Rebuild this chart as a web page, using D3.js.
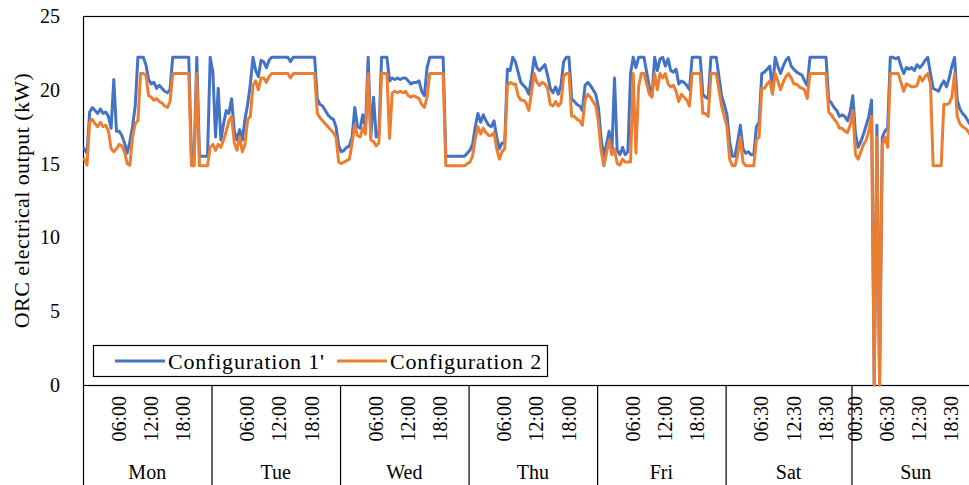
<!DOCTYPE html>
<html>
<head>
<meta charset="utf-8">
<script src="https://cdn.jsdelivr.net/npm/d3@7"></script>
<style>
  body { margin: 0; background: #fff; }
  svg { display: block; font-family: "Liberation Serif", "Times New Roman", serif; }
  .series { fill: none; stroke-width: 3; stroke-linejoin: round; stroke-linecap: round; }
</style>
</head>
<body>
<svg id="chart" width="969" height="485"></svg>
<script>
// half-hour slots per day; Sat has one slot fewer, Sun is cut off at the right
const days = ["Mon", "Tue", "Wed", "Thu", "Fri", "Sat", "Sun"];
const slotsPerDay = [48, 48, 48, 48, 48, 47, 48];
const tickSlots = [[13, 25, 37], [13, 25, 37], [13, 25, 37], [13, 25, 37],
                   [13, 25, 37], [13, 25, 37], [1, 13, 25, 37]];
const tickLabels = [["06:00", "12:00", "18:00"], ["06:00", "12:00", "18:00"],
                    ["06:00", "12:00", "18:00"], ["06:00", "12:00", "18:00"],
                    ["06:00", "12:00", "18:00"], ["06:30", "12:30", "18:30"],
                    ["00:30", "06:30", "12:30", "18:30"]];
const yTicks = [0, 5, 10, 15, 20, 25];
const seriesNames = ["Configuration 1'", "Configuration 2"];
const seriesColors = ["#4472C4", "#ED7D31"];

const config1 = [
  // Mon
  16.0, 15.7, 18.5, 18.8, 18.6, 18.4, 18.7, 18.4, 18.5, 18.2, 17.4, 20.7,
  17.2, 17.2, 16.9, 16.4, 15.7, 16.5, 17.5, 18.9, 22.2, 22.2, 22.2, 21.7,
  20.7, 20.4, 20.5, 20.1, 20.3, 20.1, 19.9, 19.8, 20.0, 22.2, 22.2, 22.2,
  22.2, 22.2, 22.2, 22.2, 15.5, 15.5, 22.2, 15.5, 15.5, 15.5, 15.5, 22.2,
  // Tue
  21.2, 16.8, 20.1, 16.6, 17.7, 18.6, 18.4, 19.4, 17.2, 16.6, 17.3, 16.6,
  18.0, 19.0, 20.4, 22.2, 21.3, 20.9, 22.0, 21.9, 21.5, 22.0, 22.2, 22.2,
  22.2, 22.2, 22.2, 22.2, 22.2, 21.9, 22.2, 22.2, 22.2, 22.2, 22.2, 22.2,
  22.2, 22.2, 22.2, 19.4, 19.0, 18.9, 18.6, 18.3, 18.1, 18.0, 17.5, 16.2,
  // Wed
  15.8, 15.9, 16.1, 16.2, 16.8, 18.8, 17.5, 17.4, 18.3, 17.4, 22.2, 16.8,
  19.5, 16.8, 17.0, 22.2, 22.2, 22.2, 20.6, 20.8, 20.7, 20.8, 20.7, 20.8,
  20.8, 20.6, 20.4, 20.5, 20.5, 20.6, 19.9, 19.6, 21.5, 22.2, 22.2, 22.2,
  22.2, 22.2, 22.2, 15.5, 15.5, 15.5, 15.5, 15.5, 15.5, 15.5, 15.5, 15.7,
  // Thu
  15.9, 16.3, 17.5, 18.4, 17.8, 18.3, 17.9, 17.6, 17.5, 17.9, 16.8, 16.0,
  16.4, 16.4, 21.4, 21.3, 22.2, 21.9, 21.2, 20.5, 20.3, 20.1, 19.7, 20.8,
  22.2, 21.5, 21.3, 21.5, 21.7, 21.0, 20.1, 19.8, 20.2, 19.7, 20.3, 21.9,
  22.2, 22.2, 19.4, 19.2, 19.0, 18.9, 18.6, 20.3, 20.5, 20.3, 20.0, 19.7,
  // Fri
  18.8, 16.7, 15.5, 16.3, 17.2, 15.7, 20.8, 15.9, 15.6, 16.1, 15.6, 15.8,
  21.1, 22.2, 21.5, 22.2, 22.2, 22.2, 21.2, 20.2, 19.6, 22.2, 21.3, 22.1,
  22.2, 21.6, 22.1, 21.3, 21.2, 21.4, 20.4, 20.6, 20.5, 20.3, 20.0, 22.2,
  22.2, 22.2, 22.2, 19.7, 19.5, 19.4, 22.2, 22.2, 22.2, 20.9, 19.6, 19.0,
  // Sat
  18.3, 16.5, 15.5, 15.5, 16.5, 17.6, 16.0, 15.7, 15.8, 15.6, 15.6, 17.5,
  17.8, 21.1, 21.2, 21.4, 21.6, 20.0, 22.2, 21.6, 21.1, 21.6, 22.0, 22.2,
  21.6, 21.4, 21.2, 21.1, 21.0, 20.6, 20.3, 22.2, 22.2, 22.2, 22.2, 22.2,
  22.2, 22.2, 19.3, 19.1, 18.8, 18.6, 18.2, 18.3, 18.2, 17.9, 18.5,
  // Sun
  19.6, 17.0, 16.1, 16.5, 17.0, 17.6, 18.2, 19.3, 0, 17.6, 0, 16.8,
  17.2, 17.4, 22.2, 22.2, 22.1, 22.2, 21.6, 21.1, 21.5, 21.4, 21.5, 21.3,
  21.7, 21.5, 21.7, 22.0, 22.2, 21.1, 20.1, 20.0, 19.9, 20.3, 20.6, 20.2,
  20.8, 21.6, 22.2, 19.3, 18.7, 18.4, 18.2, 17.9, 17.6
];

const config2 = [
  // Mon
  15.3, 14.9, 17.8, 18.0, 17.7, 17.5, 17.8, 17.5, 17.6, 17.2, 16.0, 15.8,
  16.0, 16.3, 16.2, 15.8, 15.0, 14.9, 16.8, 17.7, 17.9, 21.1, 21.1, 21.0,
  19.6, 19.5, 19.3, 19.4, 19.2, 19.1, 18.9, 18.8, 19.2, 21.1, 21.1, 21.1,
  21.1, 21.1, 21.1, 21.1, 14.85, 14.85, 21.1, 14.85, 14.85, 14.85, 14.85, 16.1,
  // Tue
  16.3, 15.9, 16.3, 16.1, 16.6, 17.2, 17.9, 18.2, 16.4, 15.9, 16.8, 15.8,
  16.3, 18.0, 18.2, 20.3, 20.6, 20.0, 20.8, 20.8, 20.5, 20.9, 21.1, 21.1,
  21.1, 21.1, 21.1, 21.1, 21.1, 20.8, 21.1, 21.1, 21.1, 21.1, 21.1, 21.1,
  21.1, 21.1, 21.1, 18.4, 18.1, 17.9, 17.7, 17.5, 17.3, 17.1, 16.8, 15.1,
  // Wed
  15.0, 15.1, 15.2, 15.3, 16.4, 17.6, 16.9, 16.8, 17.4, 17.0, 21.1, 16.6,
  16.5, 16.2, 16.4, 21.1, 21.1, 21.1, 16.7, 19.8, 19.9, 19.8, 19.9, 19.8,
  19.9, 19.6, 19.5, 19.6, 19.5, 19.4, 19.0, 18.8, 19.5, 21.1, 21.1, 21.1,
  21.1, 21.1, 21.1, 14.85, 14.85, 14.85, 14.85, 14.85, 14.85, 14.85, 14.85, 15.0,
  // Thu
  15.1, 15.5, 16.7, 17.5, 17.0, 17.4, 17.1, 16.9, 16.9, 17.1, 16.0, 15.3,
  15.8, 16.0, 20.3, 20.5, 20.4, 20.4, 19.6, 19.3, 19.3, 19.1, 18.6, 19.8,
  21.1, 20.5, 20.3, 20.5, 20.4, 20.1, 19.0, 18.9, 19.2, 18.9, 19.1, 20.9,
  21.1, 21.1, 18.2, 18.2, 18.0, 17.9, 17.6, 19.3, 19.7, 19.5, 19.2, 18.9,
  // Fri
  17.8, 15.9, 14.85, 15.7, 16.6, 15.6, 16.0, 15.0, 14.9, 15.3, 15.1, 15.1,
  15.1, 21.1, 15.7, 20.2, 21.1, 21.1, 20.4, 19.7, 19.5, 21.1, 20.0, 21.1,
  20.8, 21.1, 20.4, 20.2, 20.3, 19.9, 19.2, 19.7, 19.5, 19.3, 18.9, 21.1,
  21.1, 21.1, 21.1, 18.4, 18.4, 18.2, 21.1, 21.1, 21.1, 20.0, 18.9, 18.2,
  // Sat
  17.5, 15.3, 14.85, 14.85, 15.6, 16.8, 15.1, 14.85, 14.85, 14.85, 14.85, 16.6,
  16.8, 20.1, 20.1, 20.4, 20.6, 19.7, 21.1, 20.6, 20.0, 20.5, 20.9, 21.1,
  20.8, 20.4, 20.4, 20.2, 20.1, 20.0, 19.4, 21.1, 21.1, 21.1, 21.1, 21.1,
  21.1, 21.1, 18.5, 18.3, 18.0, 17.8, 17.4, 17.4, 17.2, 17.1, 17.6,
  // Sun
  18.6, 15.6, 15.3, 15.8, 16.3, 16.6, 17.2, 18.2, 0, 16.8, 0, 16.3,
  16.8, 16.1, 21.1, 21.1, 21.1, 21.1, 20.5, 19.9, 20.4, 20.3, 20.2, 20.2,
  20.3, 20.9, 20.6, 20.9, 21.1, 20.4, 14.85, 14.85, 14.85, 14.85, 19.0, 19.0,
  19.1, 19.5, 21.1, 18.2, 17.7, 17.5, 17.4, 17.2, 16.9
];

const svg = d3.select("#chart");
const plotLeft = 83, plotRight = 980, plotTop = 16, plotBottom = 385;

const totalSlots = d3.sum(slotsPerDay);
const x = d3.scaleLinear().domain([0, totalSlots]).range([plotLeft, plotRight]);
const y = d3.scaleLinear().domain([0, 25]).range([plotBottom, plotTop]);

let dayStart = [];
let acc = 0;
slotsPerDay.forEach((n) => { dayStart.push(acc); acc += n; });

// plot frame (right side falls outside the picture)
svg.append('rect')
    .attr('x', plotLeft + 0.5).attr('y', plotTop + 0.5)
    .attr('width', plotRight - plotLeft).attr('height', plotBottom - plotTop)
    .attr('fill', "none").attr('stroke', "#000").attr('stroke-width', 1.2);

// y axis labels
let yAxis = svg.append('g')
    .attr('transform', `translate(${plotLeft},0)`)
    .call(d3.axisLeft(y).tickValues(yTicks).tickSize(0).tickPadding(23));
yAxis.select('.domain').remove();
yAxis.selectAll('text')
    .attr('font-family', "Liberation Serif, serif")
    .attr('font-size', 20)
    .attr('fill', "#000");

svg.append('text')
    .attr('transform', `translate(29,${(plotTop + plotBottom) / 2}) rotate(-90)`)
    .attr('text-anchor', "middle")
    .attr('font-size', 22)
    .attr('letter-spacing', 0.4)
    .text("ORC electrical output (kW)");

// series lines
const line = d3.line()
    .x((d, i) => x(i + 0.5))
    .y((d) => y(d));

[config1, config2].forEach((values, k) => {
    svg.append('path')
        .attr('class', "series")
        .attr('stroke', seriesColors[k])
        .attr('d', line(values));
});

// multi-level category axis
let xAxis = svg.append('g').attr('class', "x-axis");
days.forEach((day, d) => {
    let x0 = x(dayStart[d]);
    xAxis.append('line')
        .attr('x1', x0 + 0.5).attr('x2', x0 + 0.5)
        .attr('y1', plotBottom).attr('y2', 485)
        .attr('stroke', "#000").attr('stroke-width', 1.2);
    tickSlots[d].forEach((s, j) => {
        xAxis.append('text')
            .attr('transform', `translate(${x(dayStart[d] + s + 0.5)},396) rotate(-90)`)
            .attr('text-anchor', "end")
            .attr('dy', "0.33em")
            .attr('font-size', 20)
            .text(tickLabels[d][j]);
    });
    xAxis.append('text')
        .attr('x', x(dayStart[d] + slotsPerDay[d] / 2))
        .attr('y', 479)
        .attr('text-anchor', "middle")
        .attr('font-size', 20)
        .text(day);
});

// legend
let legend = svg.append('g').attr('class', "legend");
legend.append('rect')
    .attr('x', 93.5).attr('y', 345.5)
    .attr('width', 454).attr('height', 31)
    .attr('fill', "#fff").attr('stroke', "#000").attr('stroke-width', 1.2);
const legendX = [115, 337];
seriesNames.forEach((name, k) => {
    legend.append('line')
        .attr('x1', legendX[k]).attr('x2', legendX[k] + 50)
        .attr('y1', 361).attr('y2', 361)
        .attr('stroke', seriesColors[k]).attr('stroke-width', 3);
    legend.append('text')
        .attr('x', legendX[k] + 53).attr('y', 368.5)
        .attr('font-size', 22)
        .attr('letter-spacing', 0.8)
        .text(name);
});
</script>
</body>
</html>
